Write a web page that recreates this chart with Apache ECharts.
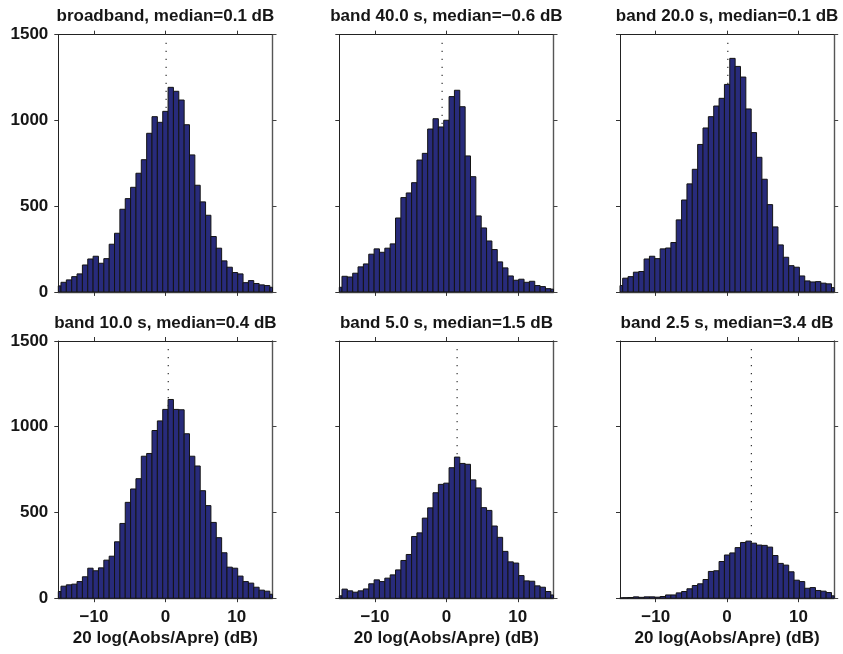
<!DOCTYPE html>
<html>
<head>
<meta charset="utf-8">
<script src="https://cdn.jsdelivr.net/npm/echarts@6/dist/echarts.min.js"></script>
<style>
  html, body { margin: 0; padding: 0; background: #ffffff; }
  #chart { width: 843px; height: 654px; }
</style>
</head>
<body>
<div id="chart"></div>
<script>
// ---------------- data ----------------
const binCenters = [-15, -14.25, -13.5, -12.75, -12, -11.25, -10.5, -9.75, -9, -8.25,
  -7.5, -6.75, -6, -5.25, -4.5, -3.75, -3, -2.25, -1.5, -0.75, 0, 0.75, 1.5, 2.25,
  3, 3.75, 4.5, 5.25, 6, 6.75, 7.5, 8.25, 9, 9.75, 10.5, 11.25, 12, 12.75, 13.5, 14.25, 15];
const binWidth = 0.75;

const broadband = [35, 56, 70, 89, 105, 157, 192, 208, 167, 194, 278, 342, 482, 544, 610, 692, 771, 925, 1022, 989,
  1053, 1193, 1170, 1119, 975, 799, 622, 525, 447, 323, 255, 181, 144, 113, 105, 54, 66, 49, 41, 37, 27];
const band40 = [27, 91, 87, 109, 146, 163, 220, 251, 231, 255, 280, 431, 550, 577, 637, 769, 808, 950, 1010, 962,
  1001, 1139, 1176, 1080, 793, 672, 443, 373, 297, 247, 175, 140, 93, 68, 74, 56, 62, 37, 31, 19, 16];
const band20 = [37, 80, 89, 115, 119, 192, 208, 194, 251, 256, 288, 420, 536, 630, 715, 860, 956, 1022, 1084, 1129,
  1210, 1362, 1315, 1253, 1067, 929, 785, 657, 509, 379, 274, 202, 153, 144, 93, 64, 58, 60, 51, 47, 25];
const band10 = [39, 70, 78, 82, 97, 125, 175, 160, 177, 222, 245, 329, 436, 559, 637, 697, 828, 844, 978, 1034,
  1101, 1159, 1101, 1099, 959, 828, 771, 627, 540, 442, 353, 265, 181, 175, 129, 97, 88, 64, 47, 41, 23];
const band5 = [14, 53, 43, 35, 43, 54, 84, 107, 97, 117, 136, 165, 220, 255, 360, 381, 467, 527, 615, 664,
  671, 761, 823, 786, 781, 690, 643, 528, 512, 421, 355, 273, 212, 205, 132, 101, 99, 72, 64, 39, 19];
const band2p5 = [2, 3, 4, 8, 5, 8, 8, 6, 10, 19, 19, 31, 39, 55, 74, 84, 109, 156, 160, 214,
  252, 264, 295, 325, 333, 321, 310, 308, 298, 249, 203, 193, 154, 105, 97, 58, 62, 45, 41, 33, 14];

const panelSeries = [broadband, band40, band20, band10, band5, band2p5];
const panelTitles = ['broadband, median=0.1 dB', 'band 40.0 s, median=\u22120.6 dB', 'band 20.0 s, median=0.1 dB',
  'band 10.0 s, median=0.4 dB', 'band 5.0 s, median=1.5 dB', 'band 2.5 s, median=3.4 dB'];
const medians = [0.1, -0.6, 0.1, 0.4, 1.5, 3.4];
const medianLineTop = 1470;

const xTicks = [-10, 0, 10];
const yTicks = [0, 500, 1000, 1500];
const xRange = [-15, 15];
const yRange = [0, 1500];
const xAxisName = '20 log(Aobs/Apre) (dB)';

// ---------------- layout / style ----------------
const FONT = '"Liberation Sans", Arial, Helvetica, sans-serif';
const TEXT = '#161616';
const gridLefts = [58.3, 339.3, 620];
const gridTops = [34.7, 341];
const gridW = 214.2;
const gridH = 257.2;
const barFill = '#282b7b';
const barEdge = '#141414';

const chart = echarts.init(document.getElementById('chart'), null, { renderer: 'canvas' });

const grids = [], xAxes = [], yAxes = [], series = [], graphics = [];

function fmtMinus(v) { return String(v).replace('-', '\u2212'); }
function fmtPlain(v) { return String(v); }

panelSeries.forEach((vals, i) => {
  const r = Math.floor(i / 3), c = i % 3;
  grids.push({ left: gridLefts[c], top: gridTops[r], width: gridW, height: gridH, containLabel: false });

  const lineStyleMain = { color: '#222', width: 1 };
  const lineStyleSide = { color: '#555', width: 1.4 };

  // bottom x axis
  xAxes.push({
    type: 'value', gridIndex: i, position: 'bottom', min: xRange[0], max: xRange[1],
    axisLine: { show: true, onZero: false, lineStyle: lineStyleSide },
    axisTick: { show: true, customValues: xTicks, length: 4, inside: false, lineStyle: { color: '#333', width: 1 } },
    axisLabel: { show: r === 1, customValues: xTicks, formatter: fmtMinus, margin: 11,
      fontFamily: FONT, fontWeight: 'bold', fontSize: 17, color: TEXT },
    splitLine: { show: false },
    name: r === 1 ? xAxisName : '', nameLocation: 'middle', nameGap: 32,
    nameTextStyle: { fontFamily: FONT, fontWeight: 'bold', fontSize: 17, color: TEXT }
  });
  // top x axis (ticks only)
  xAxes.push({
    type: 'value', gridIndex: i, position: 'top', min: xRange[0], max: xRange[1],
    axisLine: { show: true, onZero: false, lineStyle: lineStyleMain },
    axisTick: { show: true, customValues: xTicks, length: 4, inside: false, lineStyle: { color: '#333', width: 1 } },
    axisLabel: { show: false }, splitLine: { show: false }
  });
  // left y axis
  yAxes.push({
    type: 'value', gridIndex: i, position: 'left', min: yRange[0], max: yRange[1],
    axisLine: { show: true, onZero: false, lineStyle: lineStyleMain },
    axisTick: { show: true, customValues: yTicks, length: 4, inside: false, lineStyle: { color: '#333', width: 1 } },
    axisLabel: { show: c === 0, customValues: yTicks, formatter: fmtPlain, margin: 10,
      fontFamily: FONT, fontWeight: 'bold', fontSize: 17, color: TEXT },
    splitLine: { show: false }
  });
  // right y axis (ticks only)
  yAxes.push({
    type: 'value', gridIndex: i, position: 'right', min: yRange[0], max: yRange[1],
    axisLine: { show: true, onZero: false, lineStyle: lineStyleSide },
    axisTick: { show: true, customValues: yTicks, length: 4, inside: false, lineStyle: { color: '#444', width: 1 } },
    axisLabel: { show: false }, splitLine: { show: false }
  });

  // median dotted line (behind bars)
  series.push({
    type: 'line', xAxisIndex: 2 * i, yAxisIndex: 2 * i, z: 1,
    data: [[medians[i], 0], [medians[i], medianLineTop]],
    symbol: 'none', silent: true,
    lineStyle: { color: '#333', width: 1.2, type: [1.2, 6.8] }
  });

  // histogram bars
  series.push({
    type: 'custom', xAxisIndex: 2 * i, yAxisIndex: 2 * i, z: 2,
    data: binCenters.map((x, k) => [x, vals[k]]),
    renderItem: function (params, api) {
      const cx = api.value(0), v = api.value(1);
      const p0 = api.coord([cx - binWidth / 2, v]);
      const p1 = api.coord([cx + binWidth / 2, 0]);
      const cs = params.coordSys;
      const shape = echarts.graphic.clipRectByRect(
        { x: p0[0], y: p0[1], width: p1[0] - p0[0], height: p1[1] - p0[1] },
        { x: cs.x, y: cs.y, width: cs.width, height: cs.height });
      if (!shape) return null;
      return { type: 'rect', shape: shape, style: { fill: barFill, stroke: barEdge, lineWidth: 1 } };
    }
  });

  // panel title
  graphics.push({
    type: 'text', x: gridLefts[c] + gridW / 2, y: gridTops[r] - 18,
    style: { text: panelTitles[i], textAlign: 'center', textVerticalAlign: 'middle',
      font: 'bold 17px ' + FONT, fill: TEXT }
  });
});

chart.setOption({
  backgroundColor: '#ffffff',
  animation: false,
  grid: grids,
  xAxis: xAxes,
  yAxis: yAxes,
  series: series,
  graphic: graphics
});
</script>
</body>
</html>
